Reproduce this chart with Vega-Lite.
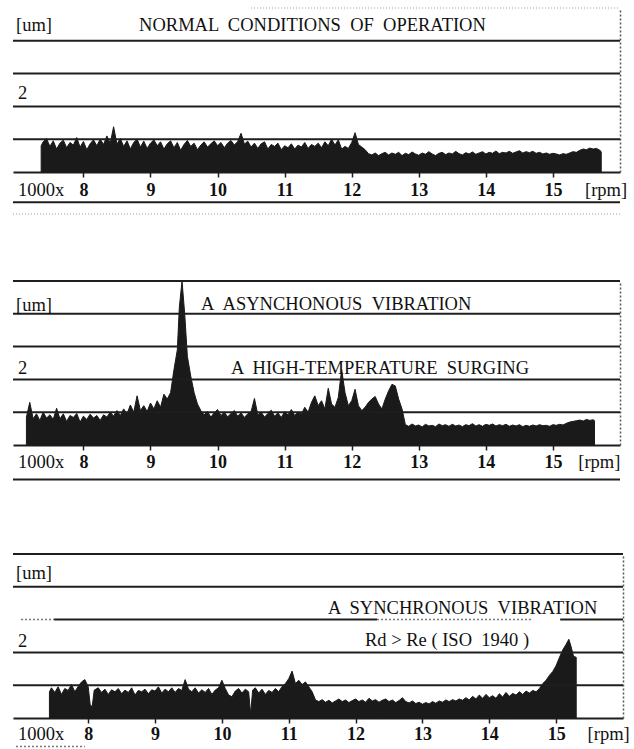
{
  "$schema": "https://vega.github.io/schema/vega-lite/v6.json",
  "background": "white",
  "padding": {"left": 12, "top": 7, "right": 0, "bottom": 0},
  "autosize": {"type": "pad"},
  "spacing": 109,
  "bounds": "flush",
  "config": {
    "view": {"stroke": null},
    "text": {"font": "Liberation Serif", "color": "#111111"},
    "axis": {"labelFont": "Liberation Serif"}
  },
  "datasets": {
    "p1": [
      {"rpm": 7.37, "um": 0.8}, {"rpm": 7.4, "um": 0.92}, {"rpm": 7.45, "um": 1.02}, {"rpm": 7.5, "um": 0.78}, {"rpm": 7.55, "um": 0.95}, {"rpm": 7.6, "um": 0.7}, {"rpm": 7.65, "um": 0.88}, {"rpm": 7.7, "um": 0.97}, {"rpm": 7.75, "um": 0.74}, {"rpm": 7.8, "um": 0.9}, {"rpm": 7.85, "um": 0.82}, {"rpm": 7.9, "um": 1.05}, {"rpm": 7.95, "um": 0.76}, {"rpm": 8.0, "um": 0.93}, {"rpm": 8.05, "um": 0.68}, {"rpm": 8.1, "um": 0.86}, {"rpm": 8.15, "um": 0.98}, {"rpm": 8.2, "um": 0.8}, {"rpm": 8.25, "um": 1.0}, {"rpm": 8.3, "um": 0.84}, {"rpm": 8.35, "um": 1.1}, {"rpm": 8.4, "um": 0.88}, {"rpm": 8.45, "um": 1.38}, {"rpm": 8.5, "um": 0.85}, {"rpm": 8.55, "um": 1.02}, {"rpm": 8.6, "um": 0.78}, {"rpm": 8.65, "um": 0.95}, {"rpm": 8.7, "um": 0.7}, {"rpm": 8.75, "um": 0.9}, {"rpm": 8.8, "um": 1.0}, {"rpm": 8.85, "um": 0.76}, {"rpm": 8.9, "um": 0.94}, {"rpm": 8.95, "um": 0.72}, {"rpm": 9.0, "um": 0.88}, {"rpm": 9.05, "um": 0.98}, {"rpm": 9.1, "um": 0.8}, {"rpm": 9.15, "um": 0.92}, {"rpm": 9.2, "um": 0.7}, {"rpm": 9.25, "um": 0.86}, {"rpm": 9.3, "um": 0.95}, {"rpm": 9.35, "um": 0.74}, {"rpm": 9.4, "um": 0.9}, {"rpm": 9.45, "um": 0.66}, {"rpm": 9.5, "um": 0.84}, {"rpm": 9.55, "um": 0.96}, {"rpm": 9.6, "um": 0.78}, {"rpm": 9.65, "um": 0.88}, {"rpm": 9.7, "um": 0.68}, {"rpm": 9.75, "um": 0.82}, {"rpm": 9.8, "um": 0.92}, {"rpm": 9.85, "um": 0.76}, {"rpm": 9.9, "um": 0.86}, {"rpm": 9.95, "um": 0.95}, {"rpm": 10.0, "um": 0.8}, {"rpm": 10.05, "um": 0.9}, {"rpm": 10.1, "um": 0.74}, {"rpm": 10.15, "um": 0.88}, {"rpm": 10.2, "um": 0.96}, {"rpm": 10.25, "um": 0.82}, {"rpm": 10.3, "um": 0.93}, {"rpm": 10.35, "um": 1.18}, {"rpm": 10.4, "um": 0.85}, {"rpm": 10.45, "um": 0.94}, {"rpm": 10.5, "um": 0.76}, {"rpm": 10.55, "um": 0.88}, {"rpm": 10.6, "um": 0.72}, {"rpm": 10.65, "um": 0.86}, {"rpm": 10.7, "um": 0.92}, {"rpm": 10.75, "um": 0.7}, {"rpm": 10.8, "um": 0.84}, {"rpm": 10.85, "um": 0.78}, {"rpm": 10.9, "um": 0.88}, {"rpm": 10.95, "um": 0.68}, {"rpm": 11.0, "um": 0.8}, {"rpm": 11.05, "um": 0.74}, {"rpm": 11.1, "um": 0.86}, {"rpm": 11.15, "um": 0.7}, {"rpm": 11.2, "um": 0.82}, {"rpm": 11.25, "um": 0.76}, {"rpm": 11.3, "um": 0.9}, {"rpm": 11.35, "um": 0.72}, {"rpm": 11.4, "um": 0.84}, {"rpm": 11.45, "um": 0.78}, {"rpm": 11.5, "um": 0.88}, {"rpm": 11.55, "um": 0.74}, {"rpm": 11.6, "um": 0.92}, {"rpm": 11.65, "um": 0.8}, {"rpm": 11.7, "um": 1.0}, {"rpm": 11.75, "um": 0.82}, {"rpm": 11.8, "um": 0.98}, {"rpm": 11.85, "um": 0.7}, {"rpm": 11.9, "um": 0.78}, {"rpm": 11.95, "um": 0.72}, {"rpm": 12.0, "um": 0.9}, {"rpm": 12.05, "um": 1.2}, {"rpm": 12.1, "um": 0.84}, {"rpm": 12.15, "um": 0.76}, {"rpm": 12.2, "um": 0.68}, {"rpm": 12.25, "um": 0.56}, {"rpm": 12.3, "um": 0.52}, {"rpm": 12.35, "um": 0.58}, {"rpm": 12.4, "um": 0.5}, {"rpm": 12.45, "um": 0.56}, {"rpm": 12.5, "um": 0.6}, {"rpm": 12.55, "um": 0.52}, {"rpm": 12.6, "um": 0.58}, {"rpm": 12.65, "um": 0.54}, {"rpm": 12.7, "um": 0.6}, {"rpm": 12.75, "um": 0.5}, {"rpm": 12.8, "um": 0.57}, {"rpm": 12.85, "um": 0.53}, {"rpm": 12.9, "um": 0.61}, {"rpm": 12.95, "um": 0.55}, {"rpm": 13.0, "um": 0.51}, {"rpm": 13.05, "um": 0.58}, {"rpm": 13.1, "um": 0.54}, {"rpm": 13.15, "um": 0.62}, {"rpm": 13.2, "um": 0.55}, {"rpm": 13.25, "um": 0.5}, {"rpm": 13.3, "um": 0.57}, {"rpm": 13.35, "um": 0.6}, {"rpm": 13.4, "um": 0.53}, {"rpm": 13.45, "um": 0.58}, {"rpm": 13.5, "um": 0.55}, {"rpm": 13.55, "um": 0.63}, {"rpm": 13.6, "um": 0.56}, {"rpm": 13.65, "um": 0.52}, {"rpm": 13.7, "um": 0.59}, {"rpm": 13.75, "um": 0.55}, {"rpm": 13.8, "um": 0.61}, {"rpm": 13.85, "um": 0.54}, {"rpm": 13.9, "um": 0.58}, {"rpm": 13.95, "um": 0.62}, {"rpm": 14.0, "um": 0.55}, {"rpm": 14.05, "um": 0.6}, {"rpm": 14.1, "um": 0.57}, {"rpm": 14.15, "um": 0.64}, {"rpm": 14.2, "um": 0.56}, {"rpm": 14.25, "um": 0.6}, {"rpm": 14.3, "um": 0.58}, {"rpm": 14.35, "um": 0.63}, {"rpm": 14.4, "um": 0.57}, {"rpm": 14.45, "um": 0.61}, {"rpm": 14.5, "um": 0.65}, {"rpm": 14.55, "um": 0.58}, {"rpm": 14.6, "um": 0.62}, {"rpm": 14.65, "um": 0.59}, {"rpm": 14.7, "um": 0.63}, {"rpm": 14.75, "um": 0.57}, {"rpm": 14.8, "um": 0.6}, {"rpm": 14.85, "um": 0.55}, {"rpm": 14.9, "um": 0.58}, {"rpm": 14.95, "um": 0.54}, {"rpm": 15.0, "um": 0.57}, {"rpm": 15.05, "um": 0.55}, {"rpm": 15.1, "um": 0.52}, {"rpm": 15.15, "um": 0.56}, {"rpm": 15.2, "um": 0.54}, {"rpm": 15.25, "um": 0.58}, {"rpm": 15.3, "um": 0.62}, {"rpm": 15.35, "um": 0.6}, {"rpm": 15.4, "um": 0.66}, {"rpm": 15.45, "um": 0.7}, {"rpm": 15.5, "um": 0.68}, {"rpm": 15.55, "um": 0.73}, {"rpm": 15.6, "um": 0.7}, {"rpm": 15.65, "um": 0.72}, {"rpm": 15.7, "um": 0.66}, {"rpm": 15.72, "um": 0.62}
    ],
    "p2": [
      {"rpm": 7.15, "um": 0.85}, {"rpm": 7.2, "um": 1.3}, {"rpm": 7.25, "um": 0.8}, {"rpm": 7.3, "um": 0.95}, {"rpm": 7.35, "um": 0.75}, {"rpm": 7.4, "um": 1.0}, {"rpm": 7.45, "um": 0.82}, {"rpm": 7.5, "um": 0.92}, {"rpm": 7.55, "um": 0.78}, {"rpm": 7.6, "um": 1.12}, {"rpm": 7.65, "um": 0.8}, {"rpm": 7.7, "um": 0.95}, {"rpm": 7.75, "um": 0.72}, {"rpm": 7.8, "um": 0.9}, {"rpm": 7.85, "um": 0.84}, {"rpm": 7.9, "um": 0.96}, {"rpm": 7.95, "um": 0.7}, {"rpm": 8.0, "um": 0.88}, {"rpm": 8.05, "um": 0.78}, {"rpm": 8.1, "um": 0.94}, {"rpm": 8.15, "um": 0.82}, {"rpm": 8.2, "um": 0.9}, {"rpm": 8.25, "um": 0.75}, {"rpm": 8.3, "um": 0.92}, {"rpm": 8.35, "um": 0.85}, {"rpm": 8.4, "um": 1.0}, {"rpm": 8.45, "um": 0.88}, {"rpm": 8.5, "um": 1.05}, {"rpm": 8.55, "um": 0.9}, {"rpm": 8.6, "um": 1.1}, {"rpm": 8.65, "um": 0.95}, {"rpm": 8.7, "um": 1.22}, {"rpm": 8.75, "um": 1.0}, {"rpm": 8.8, "um": 1.5}, {"rpm": 8.85, "um": 1.05}, {"rpm": 8.9, "um": 1.2}, {"rpm": 8.95, "um": 1.02}, {"rpm": 9.0, "um": 1.28}, {"rpm": 9.05, "um": 1.1}, {"rpm": 9.1, "um": 1.35}, {"rpm": 9.15, "um": 1.15}, {"rpm": 9.2, "um": 1.55}, {"rpm": 9.25, "um": 1.4}, {"rpm": 9.3, "um": 1.6}, {"rpm": 9.35, "um": 2.3}, {"rpm": 9.4, "um": 2.9}, {"rpm": 9.43, "um": 4.2}, {"rpm": 9.47, "um": 5.0}, {"rpm": 9.51, "um": 4.0}, {"rpm": 9.55, "um": 2.7}, {"rpm": 9.6, "um": 2.1}, {"rpm": 9.65, "um": 1.6}, {"rpm": 9.7, "um": 1.25}, {"rpm": 9.75, "um": 1.05}, {"rpm": 9.8, "um": 0.92}, {"rpm": 9.85, "um": 1.02}, {"rpm": 9.9, "um": 0.85}, {"rpm": 9.95, "um": 0.98}, {"rpm": 10.0, "um": 1.08}, {"rpm": 10.05, "um": 0.9}, {"rpm": 10.1, "um": 1.0}, {"rpm": 10.15, "um": 0.86}, {"rpm": 10.2, "um": 0.96}, {"rpm": 10.25, "um": 1.05}, {"rpm": 10.3, "um": 0.88}, {"rpm": 10.35, "um": 0.98}, {"rpm": 10.4, "um": 0.84}, {"rpm": 10.45, "um": 0.95}, {"rpm": 10.5, "um": 1.02}, {"rpm": 10.55, "um": 1.42}, {"rpm": 10.6, "um": 0.92}, {"rpm": 10.65, "um": 1.0}, {"rpm": 10.7, "um": 0.85}, {"rpm": 10.75, "um": 0.96}, {"rpm": 10.8, "um": 1.06}, {"rpm": 10.85, "um": 0.88}, {"rpm": 10.9, "um": 0.98}, {"rpm": 10.95, "um": 0.84}, {"rpm": 11.0, "um": 1.02}, {"rpm": 11.05, "um": 0.92}, {"rpm": 11.1, "um": 1.08}, {"rpm": 11.15, "um": 0.9}, {"rpm": 11.2, "um": 1.0}, {"rpm": 11.25, "um": 0.94}, {"rpm": 11.3, "um": 1.15}, {"rpm": 11.35, "um": 1.0}, {"rpm": 11.4, "um": 1.3}, {"rpm": 11.45, "um": 1.5}, {"rpm": 11.5, "um": 1.2}, {"rpm": 11.55, "um": 1.35}, {"rpm": 11.6, "um": 1.1}, {"rpm": 11.65, "um": 1.73}, {"rpm": 11.7, "um": 1.25}, {"rpm": 11.75, "um": 1.15}, {"rpm": 11.8, "um": 1.45}, {"rpm": 11.85, "um": 2.3}, {"rpm": 11.9, "um": 1.6}, {"rpm": 11.95, "um": 1.2}, {"rpm": 12.0, "um": 1.35}, {"rpm": 12.05, "um": 1.7}, {"rpm": 12.1, "um": 1.2}, {"rpm": 12.15, "um": 1.05}, {"rpm": 12.2, "um": 1.15}, {"rpm": 12.25, "um": 1.3}, {"rpm": 12.3, "um": 1.4}, {"rpm": 12.35, "um": 1.48}, {"rpm": 12.4, "um": 1.25}, {"rpm": 12.45, "um": 1.1}, {"rpm": 12.5, "um": 1.4}, {"rpm": 12.55, "um": 1.65}, {"rpm": 12.6, "um": 1.85}, {"rpm": 12.65, "um": 1.8}, {"rpm": 12.7, "um": 1.4}, {"rpm": 12.75, "um": 1.1}, {"rpm": 12.8, "um": 0.62}, {"rpm": 12.85, "um": 0.57}, {"rpm": 12.9, "um": 0.64}, {"rpm": 12.95, "um": 0.58}, {"rpm": 13.0, "um": 0.61}, {"rpm": 13.05, "um": 0.55}, {"rpm": 13.1, "um": 0.63}, {"rpm": 13.15, "um": 0.58}, {"rpm": 13.2, "um": 0.6}, {"rpm": 13.25, "um": 0.56}, {"rpm": 13.3, "um": 0.64}, {"rpm": 13.35, "um": 0.59}, {"rpm": 13.4, "um": 0.62}, {"rpm": 13.45, "um": 0.57}, {"rpm": 13.5, "um": 0.63}, {"rpm": 13.55, "um": 0.58}, {"rpm": 13.6, "um": 0.61}, {"rpm": 13.65, "um": 0.56}, {"rpm": 13.7, "um": 0.62}, {"rpm": 13.75, "um": 0.59}, {"rpm": 13.8, "um": 0.65}, {"rpm": 13.85, "um": 0.58}, {"rpm": 13.9, "um": 0.62}, {"rpm": 13.95, "um": 0.57}, {"rpm": 14.0, "um": 0.63}, {"rpm": 14.05, "um": 0.6}, {"rpm": 14.1, "um": 0.64}, {"rpm": 14.15, "um": 0.58}, {"rpm": 14.2, "um": 0.62}, {"rpm": 14.25, "um": 0.59}, {"rpm": 14.3, "um": 0.63}, {"rpm": 14.35, "um": 0.57}, {"rpm": 14.4, "um": 0.61}, {"rpm": 14.45, "um": 0.58}, {"rpm": 14.5, "um": 0.62}, {"rpm": 14.55, "um": 0.56}, {"rpm": 14.6, "um": 0.6}, {"rpm": 14.65, "um": 0.57}, {"rpm": 14.7, "um": 0.61}, {"rpm": 14.75, "um": 0.58}, {"rpm": 14.8, "um": 0.62}, {"rpm": 14.85, "um": 0.59}, {"rpm": 14.9, "um": 0.6}, {"rpm": 14.95, "um": 0.57}, {"rpm": 15.0, "um": 0.62}, {"rpm": 15.05, "um": 0.6}, {"rpm": 15.1, "um": 0.63}, {"rpm": 15.15, "um": 0.61}, {"rpm": 15.2, "um": 0.66}, {"rpm": 15.25, "um": 0.7}, {"rpm": 15.3, "um": 0.72}, {"rpm": 15.35, "um": 0.74}, {"rpm": 15.4, "um": 0.76}, {"rpm": 15.45, "um": 0.73}, {"rpm": 15.5, "um": 0.78}, {"rpm": 15.55, "um": 0.75}, {"rpm": 15.6, "um": 0.77}, {"rpm": 15.62, "um": 0.74}
    ],
    "p3": [
      {"rpm": 7.42, "um": 0.8}, {"rpm": 7.45, "um": 0.92}, {"rpm": 7.5, "um": 0.78}, {"rpm": 7.55, "um": 0.95}, {"rpm": 7.6, "um": 0.72}, {"rpm": 7.65, "um": 0.9}, {"rpm": 7.7, "um": 0.84}, {"rpm": 7.75, "um": 1.02}, {"rpm": 7.8, "um": 0.8}, {"rpm": 7.85, "um": 0.96}, {"rpm": 7.9, "um": 1.1}, {"rpm": 7.95, "um": 1.17}, {"rpm": 8.0, "um": 0.95}, {"rpm": 8.03, "um": 0.4}, {"rpm": 8.06, "um": 0.35}, {"rpm": 8.09, "um": 0.85}, {"rpm": 8.15, "um": 0.92}, {"rpm": 8.2, "um": 0.78}, {"rpm": 8.25, "um": 0.88}, {"rpm": 8.3, "um": 0.72}, {"rpm": 8.35, "um": 0.86}, {"rpm": 8.4, "um": 0.8}, {"rpm": 8.45, "um": 0.9}, {"rpm": 8.5, "um": 0.74}, {"rpm": 8.55, "um": 0.85}, {"rpm": 8.6, "um": 0.78}, {"rpm": 8.65, "um": 0.92}, {"rpm": 8.7, "um": 0.7}, {"rpm": 8.75, "um": 0.84}, {"rpm": 8.8, "um": 0.8}, {"rpm": 8.85, "um": 0.88}, {"rpm": 8.9, "um": 0.74}, {"rpm": 8.95, "um": 0.86}, {"rpm": 9.0, "um": 0.82}, {"rpm": 9.05, "um": 0.95}, {"rpm": 9.1, "um": 0.76}, {"rpm": 9.15, "um": 0.88}, {"rpm": 9.2, "um": 0.8}, {"rpm": 9.25, "um": 0.92}, {"rpm": 9.3, "um": 0.78}, {"rpm": 9.35, "um": 0.9}, {"rpm": 9.4, "um": 0.84}, {"rpm": 9.45, "um": 1.17}, {"rpm": 9.5, "um": 0.88}, {"rpm": 9.55, "um": 0.8}, {"rpm": 9.6, "um": 0.92}, {"rpm": 9.65, "um": 0.76}, {"rpm": 9.7, "um": 0.86}, {"rpm": 9.75, "um": 0.78}, {"rpm": 9.8, "um": 0.9}, {"rpm": 9.85, "um": 0.72}, {"rpm": 9.9, "um": 0.85}, {"rpm": 9.95, "um": 0.92}, {"rpm": 10.0, "um": 1.15}, {"rpm": 10.05, "um": 0.9}, {"rpm": 10.1, "um": 0.7}, {"rpm": 10.15, "um": 0.65}, {"rpm": 10.2, "um": 0.82}, {"rpm": 10.25, "um": 0.9}, {"rpm": 10.3, "um": 0.76}, {"rpm": 10.35, "um": 0.88}, {"rpm": 10.4, "um": 0.8}, {"rpm": 10.43, "um": 0.12}, {"rpm": 10.46, "um": 0.85}, {"rpm": 10.5, "um": 0.92}, {"rpm": 10.55, "um": 0.76}, {"rpm": 10.6, "um": 0.88}, {"rpm": 10.65, "um": 0.72}, {"rpm": 10.7, "um": 0.84}, {"rpm": 10.75, "um": 0.78}, {"rpm": 10.8, "um": 0.9}, {"rpm": 10.85, "um": 0.8}, {"rpm": 10.9, "um": 0.96}, {"rpm": 10.95, "um": 1.05}, {"rpm": 11.0, "um": 1.2}, {"rpm": 11.05, "um": 1.43}, {"rpm": 11.1, "um": 1.05}, {"rpm": 11.15, "um": 1.15}, {"rpm": 11.2, "um": 1.02}, {"rpm": 11.25, "um": 1.1}, {"rpm": 11.3, "um": 0.95}, {"rpm": 11.35, "um": 0.8}, {"rpm": 11.4, "um": 0.55}, {"rpm": 11.45, "um": 0.5}, {"rpm": 11.5, "um": 0.56}, {"rpm": 11.55, "um": 0.48}, {"rpm": 11.6, "um": 0.54}, {"rpm": 11.65, "um": 0.46}, {"rpm": 11.7, "um": 0.52}, {"rpm": 11.75, "um": 0.58}, {"rpm": 11.8, "um": 0.5}, {"rpm": 11.85, "um": 0.55}, {"rpm": 11.9, "um": 0.47}, {"rpm": 11.95, "um": 0.53}, {"rpm": 12.0, "um": 0.58}, {"rpm": 12.05, "um": 0.5}, {"rpm": 12.1, "um": 0.55}, {"rpm": 12.15, "um": 0.48}, {"rpm": 12.2, "um": 0.6}, {"rpm": 12.25, "um": 0.52}, {"rpm": 12.3, "um": 0.56}, {"rpm": 12.35, "um": 0.48}, {"rpm": 12.4, "um": 0.54}, {"rpm": 12.45, "um": 0.58}, {"rpm": 12.5, "um": 0.5}, {"rpm": 12.55, "um": 0.55}, {"rpm": 12.6, "um": 0.47}, {"rpm": 12.65, "um": 0.53}, {"rpm": 12.7, "um": 0.62}, {"rpm": 12.75, "um": 0.5}, {"rpm": 12.8, "um": 0.46}, {"rpm": 12.85, "um": 0.52}, {"rpm": 12.9, "um": 0.44}, {"rpm": 12.95, "um": 0.48}, {"rpm": 13.0, "um": 0.42}, {"rpm": 13.05, "um": 0.47}, {"rpm": 13.1, "um": 0.43}, {"rpm": 13.15, "um": 0.5}, {"rpm": 13.2, "um": 0.45}, {"rpm": 13.25, "um": 0.52}, {"rpm": 13.3, "um": 0.48}, {"rpm": 13.35, "um": 0.55}, {"rpm": 13.4, "um": 0.5}, {"rpm": 13.45, "um": 0.56}, {"rpm": 13.5, "um": 0.52}, {"rpm": 13.55, "um": 0.58}, {"rpm": 13.6, "um": 0.54}, {"rpm": 13.65, "um": 0.62}, {"rpm": 13.7, "um": 0.55}, {"rpm": 13.75, "um": 0.66}, {"rpm": 13.8, "um": 0.58}, {"rpm": 13.85, "um": 0.7}, {"rpm": 13.9, "um": 0.6}, {"rpm": 13.95, "um": 0.72}, {"rpm": 14.0, "um": 0.62}, {"rpm": 14.05, "um": 0.68}, {"rpm": 14.1, "um": 0.6}, {"rpm": 14.15, "um": 0.74}, {"rpm": 14.2, "um": 0.64}, {"rpm": 14.25, "um": 0.78}, {"rpm": 14.3, "um": 0.66}, {"rpm": 14.35, "um": 0.75}, {"rpm": 14.4, "um": 0.7}, {"rpm": 14.45, "um": 0.8}, {"rpm": 14.5, "um": 0.72}, {"rpm": 14.55, "um": 0.82}, {"rpm": 14.6, "um": 0.76}, {"rpm": 14.65, "um": 0.84}, {"rpm": 14.7, "um": 0.8}, {"rpm": 14.75, "um": 0.9}, {"rpm": 14.8, "um": 1.05}, {"rpm": 14.85, "um": 1.15}, {"rpm": 14.9, "um": 1.3}, {"rpm": 14.95, "um": 1.42}, {"rpm": 15.0, "um": 1.6}, {"rpm": 15.05, "um": 1.85}, {"rpm": 15.1, "um": 2.08}, {"rpm": 15.15, "um": 2.25}, {"rpm": 15.19, "um": 2.4}, {"rpm": 15.22, "um": 2.2}, {"rpm": 15.26, "um": 1.88}, {"rpm": 15.3, "um": 1.85}
    ],
    "g1": [{"y": 1}, {"y": 2}, {"y": 3}, {"y": 4}, {"y": -0.92}],
    "g2": [{"y": 1}, {"y": 2}, {"y": 3}, {"y": 4}, {"y": 5}, {"y": -1.05}],
    "g3": [{"y": 1}, {"y": 2}, {"y": 4}, {"y": 5}],
    "d1": [{"x1": 10.5, "x2": 16, "y": 5}, {"x1": 6.95, "x2": 16, "y": -1.28}],
    "s3": [{"x1": 7.49, "x2": 12.32, "y": 3}, {"x1": 15.06, "x2": 16, "y": 3}],
    "d3": [{"x1": 6.995, "x2": 7.49, "y": 3}, {"x1": 12.32, "x2": 14.65, "y": 3}, {"x1": 6.92, "x2": 7.95, "y": -0.87}],
    "t1": [
      {"rpm": 6.995, "um": 4.47, "label": "[um]"},
      {"rpm": 8.83, "um": 4.47, "label": "NORMAL \u00a0CONDITIONS \u00a0OF \u00a0OPERATION"},
      {"rpm": 7.025, "um": 2.4, "label": "2"},
      {"rpm": 7.025, "um": -0.56, "label": "1000x"},
      {"rpm": 15.478, "um": -0.56, "label": "[rpm]"}
    ],
    "t2": [
      {"rpm": 6.995, "um": 4.28, "label": "[um]"},
      {"rpm": 9.753, "um": 4.31, "label": "A \u00a0ASYNCHONOUS \u00a0VIBRATION"},
      {"rpm": 7.025, "um": 2.36, "label": "2"},
      {"rpm": 10.2, "um": 2.36, "label": "A \u00a0HIGH-TEMPERATURE \u00a0SURGING"},
      {"rpm": 7.025, "um": -0.53, "label": "1000x"},
      {"rpm": 15.378, "um": -0.53, "label": "[rpm]"}
    ],
    "t3": [
      {"rpm": 6.92, "um": 4.43, "label": "[um]"},
      {"rpm": 11.587, "um": 3.35, "label": "A \u00a0SYNCHRONOUS \u00a0VIBRATION"},
      {"rpm": 6.95, "um": 2.36, "label": "2"},
      {"rpm": 12.14, "um": 2.39, "label": "Rd > Re ( ISO \u00a01940 )"},
      {"rpm": 6.95, "um": -0.48, "label": "1000x"},
      {"rpm": 15.47, "um": -0.48, "label": "[rpm]"}
    ]
  },
  "vconcat": [
    {
      "width": 607, "height": 164,
      "layer": [
        {
          "data": {"name": "p1"},
          "mark": {"type": "area", "color": "#1a1a1a", "stroke": "#1a1a1a", "strokeWidth": 1, "interpolate": "linear"},
          "encoding": {
            "x": {"field": "rpm", "type": "quantitative", "scale": {"domain": [6.95, 16], "nice": false, "zero": false},
              "axis": {"values": [8, 9, 10, 11, 12, 13, 14, 15], "format": "d", "title": null, "grid": false, "domainColor": "#1e1e1e", "domainWidth": 2, "tickColor": "#1e1e1e", "tickSize": 5, "tickWidth": 1.5, "labelFontSize": 18, "labelFontWeight": "bold", "labelColor": "#111111", "labelDx": 15, "labelBaseline": "middle", "labelPadding": 13, "labelFlush": false, "labelOverlap": false}},
            "y": {"field": "um", "type": "quantitative", "scale": {"domain": [0, 5], "nice": false, "zero": false},
              "axis": {"orient": "right", "title": null, "labels": false, "ticks": false, "grid": false, "domainDash": [2, 2], "domainColor": "#555555", "domainWidth": 1.5}}
          }
        },
        {
          "data": {"name": "g1"},
          "mark": {"type": "rule", "color": "#1e1e1e", "strokeWidth": 2},
          "encoding": {"y": {"field": "y", "type": "quantitative"}}
        },
        {
          "data": {"name": "d1"},
          "mark": {"type": "rule", "color": "#999999", "strokeWidth": 1.2, "strokeDash": [1, 2]},
          "encoding": {
            "x": {"field": "x1", "type": "quantitative"},
            "x2": {"field": "x2"},
            "y": {"field": "y", "type": "quantitative"}
          }
        },
        {
          "data": {"name": "t1"},
          "mark": {"type": "text", "align": "left", "baseline": "middle", "fontSize": 18.5, "color": "#111111"},
          "encoding": {
            "x": {"field": "rpm", "type": "quantitative"},
            "y": {"field": "um", "type": "quantitative"},
            "text": {"field": "label"}
          }
        }
      ]
    },
    {
      "width": 607, "height": 164,
      "layer": [
        {
          "data": {"name": "p2"},
          "mark": {"type": "area", "color": "#1a1a1a", "stroke": "#1a1a1a", "strokeWidth": 1, "interpolate": "linear"},
          "encoding": {
            "x": {"field": "rpm", "type": "quantitative", "scale": {"domain": [6.95, 16], "nice": false, "zero": false},
              "axis": {"values": [8, 9, 10, 11, 12, 13, 14, 15], "format": "d", "title": null, "grid": false, "domainColor": "#1e1e1e", "domainWidth": 2, "tickColor": "#1e1e1e", "tickSize": 5, "tickWidth": 1.5, "labelFontSize": 18, "labelFontWeight": "bold", "labelColor": "#111111", "labelDx": 15, "labelBaseline": "middle", "labelPadding": 12.5, "labelFlush": false, "labelOverlap": false}},
            "y": {"field": "um", "type": "quantitative", "scale": {"domain": [0, 5], "nice": false, "zero": false},
              "axis": {"orient": "right", "title": null, "labels": false, "ticks": false, "grid": false, "domainDash": [2, 2], "domainColor": "#555555", "domainWidth": 1.5}}
          }
        },
        {
          "data": {"name": "g2"},
          "mark": {"type": "rule", "color": "#1e1e1e", "strokeWidth": 2},
          "encoding": {"y": {"field": "y", "type": "quantitative"}}
        },
        {
          "data": {"name": "t2"},
          "mark": {"type": "text", "align": "left", "baseline": "middle", "fontSize": 18.5, "color": "#111111"},
          "encoding": {
            "x": {"field": "rpm", "type": "quantitative"},
            "y": {"field": "um", "type": "quantitative"},
            "text": {"field": "label"}
          }
        }
      ]
    },
    {
      "width": 610, "height": 164,
      "layer": [
        {
          "data": {"name": "p3"},
          "mark": {"type": "area", "color": "#1a1a1a", "stroke": "#1a1a1a", "strokeWidth": 1, "interpolate": "linear"},
          "encoding": {
            "x": {"field": "rpm", "type": "quantitative", "scale": {"domain": [6.875, 16], "nice": false, "zero": false},
              "axis": {"values": [8, 9, 10, 11, 12, 13, 14, 15], "format": "d", "title": null, "grid": false, "domainColor": "#1e1e1e", "domainWidth": 2, "tickColor": "#1e1e1e", "tickSize": 5, "tickWidth": 1.5, "labelFontSize": 18, "labelFontWeight": "bold", "labelColor": "#111111", "labelDx": 15, "labelBaseline": "middle", "labelPadding": 11, "labelFlush": false, "labelOverlap": false}},
            "y": {"field": "um", "type": "quantitative", "scale": {"domain": [0, 5], "nice": false, "zero": false},
              "axis": {"orient": "right", "title": null, "labels": false, "ticks": false, "grid": false, "domainDash": [2, 2], "domainColor": "#555555", "domainWidth": 1.5}}
          }
        },
        {
          "data": {"name": "g3"},
          "mark": {"type": "rule", "color": "#1e1e1e", "strokeWidth": 2},
          "encoding": {"y": {"field": "y", "type": "quantitative"}}
        },
        {
          "data": {"name": "s3"},
          "mark": {"type": "rule", "color": "#1e1e1e", "strokeWidth": 2},
          "encoding": {
            "x": {"field": "x1", "type": "quantitative"},
            "x2": {"field": "x2"},
            "y": {"field": "y", "type": "quantitative"}
          }
        },
        {
          "data": {"name": "d3"},
          "mark": {"type": "rule", "color": "#777777", "strokeWidth": 1.5, "strokeDash": [2, 2]},
          "encoding": {
            "x": {"field": "x1", "type": "quantitative"},
            "x2": {"field": "x2"},
            "y": {"field": "y", "type": "quantitative"}
          }
        },
        {
          "data": {"name": "t3"},
          "mark": {"type": "text", "align": "left", "baseline": "middle", "fontSize": 18.5, "color": "#111111"},
          "encoding": {
            "x": {"field": "rpm", "type": "quantitative"},
            "y": {"field": "um", "type": "quantitative"},
            "text": {"field": "label"}
          }
        }
      ]
    }
  ]
}
